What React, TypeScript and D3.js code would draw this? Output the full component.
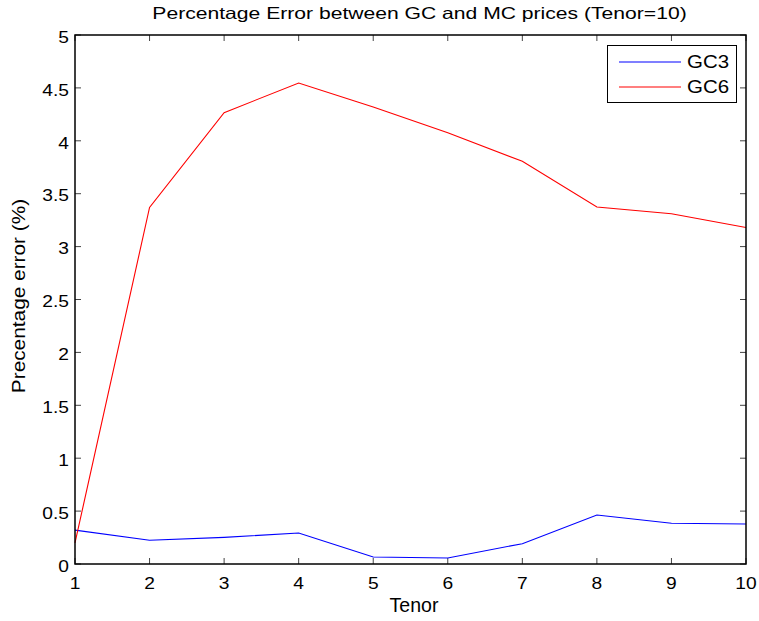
import React from "react";
import * as d3 from "d3";

const tenors = [1, 2, 3, 4, 5, 6, 7, 8, 9, 10];
const gc3 = [0.32, 0.224, 0.252, 0.293, 0.066, 0.057, 0.192, 0.463, 0.385, 0.378];
const gc6 = [0.2, 3.37, 4.266, 4.546, 4.32, 4.077, 3.806, 3.374, 3.311, 3.18];
const xTicks = [1, 2, 3, 4, 5, 6, 7, 8, 9, 10];
const yTicks = [0, 0.5, 1, 1.5, 2, 2.5, 3, 3.5, 4, 4.5, 5];
const seriesNames = ["GC3", "GC6"];
const seriesColors = ["#0000ff", "#ff0000"];
const title = "Percentage Error between GC and MC prices (Tenor=10)";
const xLabel = "Tenor";
const yLabel = "Precentage error (%)";

const W = 759;
const H = 621;
const L = 75, R = 746, T = 35, B = 564;
const FONT = "'Liberation Sans', Arial, Helvetica, sans-serif";

export default function App() {
  const x = d3.scaleLinear().domain([1, 10]).range([L, R]);
  const y = d3.scaleLinear().domain([0, 5]).range([B, T]);
  const line = d3
    .line<number>()
    .x((_, i) => x(tenors[i]))
    .y((d) => y(d));
  const series = [gc3, gc6];
  const tickLen = 6;
  return (
    <div style={{ position: "absolute", left: 0, top: 0 }}>
      <svg width={W} height={H} style={{ display: "block", background: "#fff" }} fontFamily={FONT}>
        <rect x={0} y={0} width={W} height={H} fill="#fff" />
        {xTicks.map((t) => (
          <g key={"xt" + t}>
            <line x1={x(t)} x2={x(t)} y1={B} y2={B - tickLen} stroke="#444" strokeWidth={1} />
            <line x1={x(t)} x2={x(t)} y1={T} y2={T + tickLen} stroke="#444" strokeWidth={1} />
            <text
              transform={`translate(${x(t)},589) scale(1.2,1)`}
              textAnchor="middle"
              fontSize={16}
              fill="#000"
            >
              {t}
            </text>
          </g>
        ))}
        {yTicks.map((t) => (
          <g key={"yt" + t}>
            <line x1={L} x2={L + tickLen} y1={y(t)} y2={y(t)} stroke="#444" strokeWidth={1} />
            <line x1={R} x2={R - tickLen} y1={y(t)} y2={y(t)} stroke="#444" strokeWidth={1} />
            <text
              transform={`translate(69,${y(t) + 7.7}) scale(1.2,1)`}
              textAnchor="end"
              fontSize={16}
              fill="#000"
            >
              {String(t)}
            </text>
          </g>
        ))}
        {series.map((s, i) => (
          <path key={"s" + i} d={line(s) || ""} fill="none" stroke={seriesColors[i]} strokeWidth={1.1} />
        ))}
        <rect x={L} y={T} width={R - L} height={B - T} fill="none" stroke="#000" strokeWidth={1.5} />
        <rect x={607.5} y={45.5} width={129} height={57} fill="#fff" stroke="#000" strokeWidth={1} />
        {seriesNames.map((n, i) => (
          <g key={"lg" + n}>
            <line x1={619} x2={681} y1={62 + i * 25} y2={62 + i * 25} stroke={seriesColors[i]} strokeWidth={1.1} />
            <text transform={`translate(687,${68 + i * 25}) scale(1.17,1)`} fontSize={17.5} fill="#000">
              {n}
            </text>
          </g>
        ))}
        <text transform={`translate(419.5,18.5) scale(1.28,1)`} textAnchor="middle" fontSize={16.5} fill="#000">
          {title}
        </text>
        <text x={414} y={612} textAnchor="middle" fontSize={19.5} fill="#000">
          {xLabel}
        </text>
        <text transform={`translate(25,296) rotate(-90) scale(1.12,1)`} textAnchor="middle" fontSize={18.6} fill="#000">
          {yLabel}
        </text>
      </svg>
    </div>
  );
}
